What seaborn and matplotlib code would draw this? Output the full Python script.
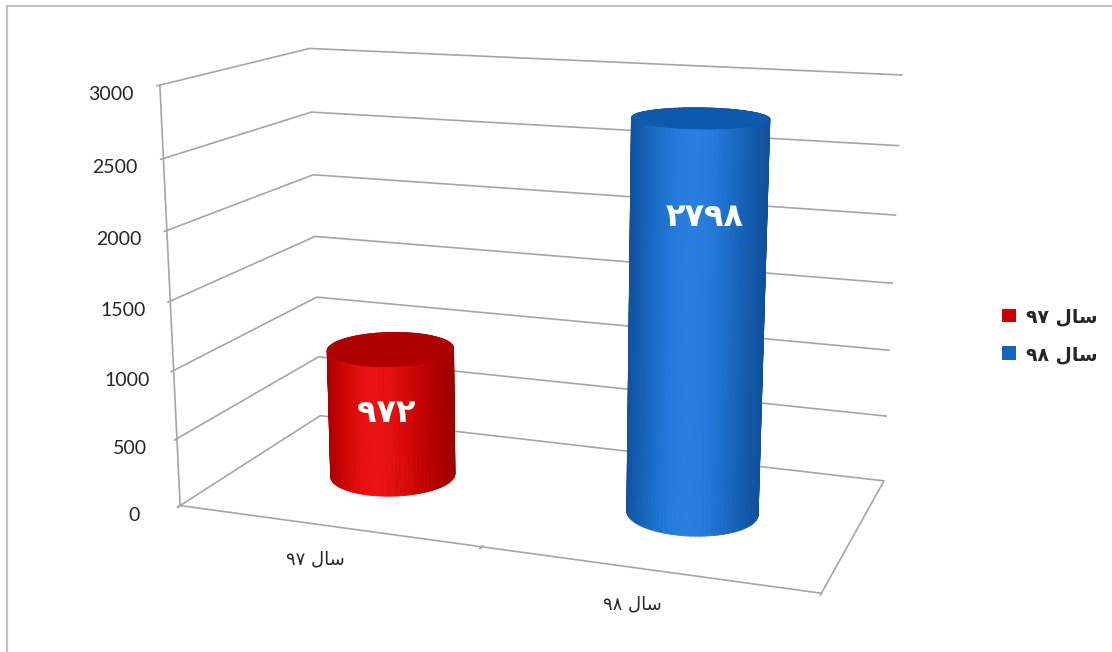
import numpy as np
import matplotlib
matplotlib.use("Agg")
import matplotlib.pyplot as plt
import seaborn as sns
from matplotlib.patches import Patch, Rectangle
from matplotlib.colors import to_rgb

# --- data ---
years = ["۹۷", "۹۸"]                 # سال ۹۷ / سال ۹۸
values = [972, 2798]
bar_colors = ["#C80000", "#1565C0"]
top_colors = ["#B00000", "#0F5AAE"]
z_ticks = [0, 500, 1000, 1500, 2000, 2500, 3000]

# "سال" already shaped (presentation forms, visual order) since matplotlib has no RTL shaping
SAL = "\uFEDD\uFE8E\uFEB3"
labels = [y + " " + SAL for y in years]
fa_digits = str.maketrans("0123456789", "۰۱۲۳۴۵۶۷۸۹")
value_labels = [str(v).translate(fa_digits) for v in values]

sns.set_theme(style="white")
plt.rcParams["font.family"] = ["Lato", "DejaVu Sans"]

fig = plt.figure(figsize=(11.12, 6.52), dpi=100)
ax = fig.add_axes([0.026, 0.018, 0.9, 1.04], projection="3d")

azim = -70
aspect = (1.86, 0.90, 1.21)
ax.set_box_aspect(aspect, zoom=1.205)
ax.set_proj_type("persp", focal_length=0.52)
ax.view_init(elev=14, azim=azim)

ax.set_xlim(-0.5, 1.5)
ax.set_ylim(0, 1)
ax.set_zlim(0, 3000)

grid_col = "#A6A6A6"
for axis in (ax.xaxis, ax.yaxis, ax.zaxis):
    axis.set_pane_color((1, 1, 1, 1))
    axis.line.set_color(grid_col)
    axis.line.set_linewidth(1.2)
    axis._axinfo["grid"]["color"] = (1, 1, 1, 0)
    axis.offsetText.set_visible(False)
    axis.label.set_visible(False)
ax.zaxis._axinfo["grid"]["color"] = grid_col
ax.zaxis._axinfo["grid"]["linewidth"] = 1.2
ax.grid(True)
ax.zaxis.set_ticks_position("lower")

ax.set_zticks(z_ticks)
ax.set_xticks([-0.5, 0.5, 1.5])
ax.set_xticklabels(["", "", ""])
ax.set_yticks([])
ax.tick_params(axis="z", labelsize=14, colors=grid_col, labelcolor="#262626", pad=8)
ax.tick_params(axis="x", colors=grid_col)

# category labels under the front edge
for i, lab in enumerate(labels):
    ax.text(i - 0.04, 0, -260, lab, fontsize=13, family="DejaVu Sans", color="#262626",
            ha="center", va="center")

# cylinders
rx = 0.2
ry = rx * (aspect[0] / 2.0) / (aspect[1] / 1.0)
yc = 0.5
theta = np.linspace(0, 2 * np.pi, 91)
light = np.deg2rad(azim - 12)
front = np.deg2rad(azim)
ax.computed_zorder = False

for i, (v, c, tc) in enumerate(zip(values, bar_colors, top_colors)):
    xc = i
    X = np.vstack([xc + rx * np.cos(theta)] * 2)
    Y = np.vstack([yc + ry * np.sin(theta)] * 2)
    Z = np.vstack([np.zeros_like(theta), np.full_like(theta, v)])
    s = np.cos(theta - light)
    base = np.array(to_rgb(c))
    k = 0.8 + 0.28 * np.clip(s, 0, 1) ** 2 - 0.12 * np.clip(-s, 0, 1)
    rgb = np.clip(base[None, :] * k[:, None] + 0.07 * np.clip(s, 0, 1)[:, None] ** 6, 0, 1)
    fc = np.concatenate([rgb, np.ones((len(theta), 1))], axis=1)
    fc = np.stack([fc, fc])
    ax.plot_surface(X, Y, Z, facecolors=fc, shade=False, linewidth=0.6,
                    rstride=1, cstride=1, zorder=2)

    r = np.linspace(0, 1, 2)
    Xt = xc + np.outer(r, rx * np.cos(theta))
    Yt = yc + np.outer(r, ry * np.sin(theta))
    Zt = np.full_like(Xt, v)
    ax.plot_surface(Xt, Yt, Zt, color=tc, shade=False, linewidth=0.6,
                    edgecolor=tc, rstride=1, cstride=1, zorder=3)

    ax.text(xc + rx * np.cos(front), yc + ry * np.sin(front), 0.87 * v - 222,
            value_labels[i], color="white", fontsize=23, fontweight="bold",
            family="DejaVu Sans", ha="center", va="center", zorder=5)

handles = [Patch(facecolor=c, edgecolor="none") for c in bar_colors]
fig.legend(handles, labels, loc="upper left", bbox_to_anchor=(0.886, 0.555),
           frameon=False, handlelength=0.75, handleheight=0.75, handletextpad=0.5,
           labelspacing=1.0, prop={"family": "DejaVu Sans", "weight": "bold", "size": 13.5})

fig.patches.append(Rectangle((7 / 1112, -0.5), 1.5, 0.5 + 1 - 6 / 652, fill=False,
                             edgecolor="#C0C0C0", linewidth=1.5, transform=fig.transFigure))

fig.savefig("out.png", dpi=100)
